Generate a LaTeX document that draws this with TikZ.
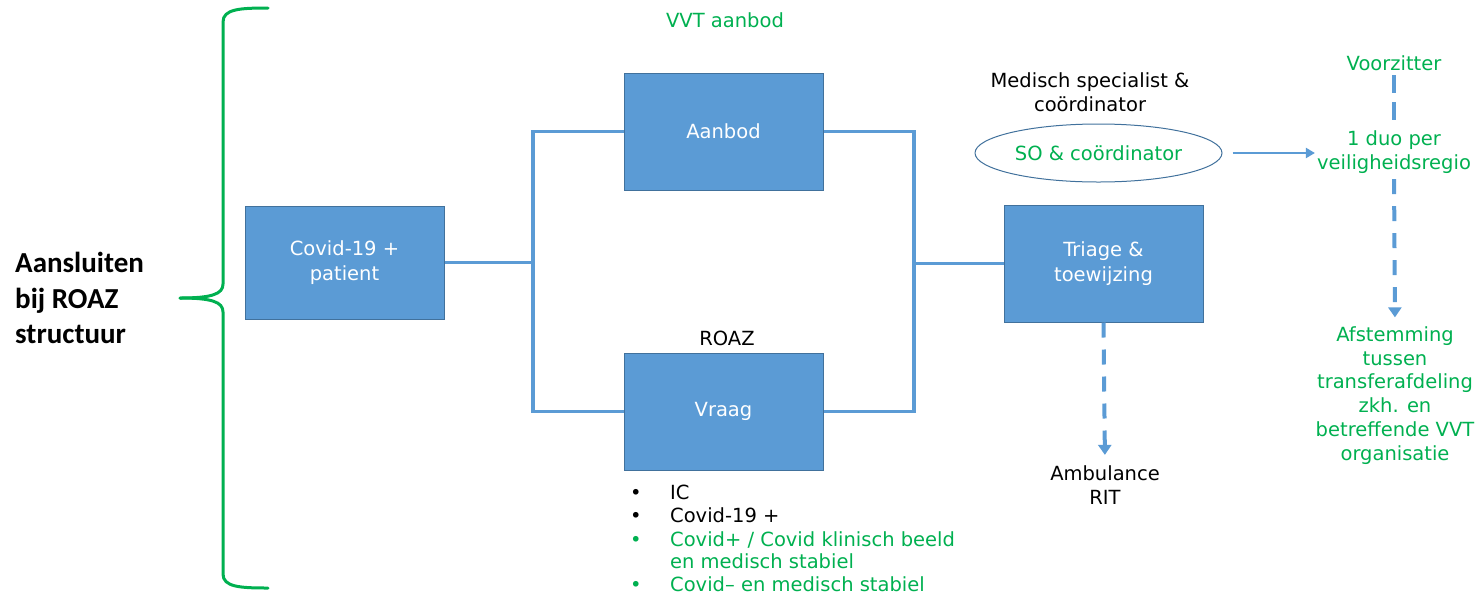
\documentclass[tikz,border=0pt]{standalone}
\usepackage{fontspec}
\setmainfont{DejaVu Sans}
\newfontfamily\lblfont{Carlito}
\usetikzlibrary{arrows.meta,shapes.geometric}
\definecolor{boxblue}{HTML}{5B9BD5}
\definecolor{boxedge}{HTML}{41719C}
\definecolor{vgreen}{HTML}{00B050}
\begin{document}
\begin{tikzpicture}[x=1pt,y=-1pt,
  txt/.style={inner sep=1pt, font=\fontsize{19.5}{24}\selectfont, align=center},
  box/.style={draw=boxedge, line width=1pt, fill=boxblue, text=white, minimum width=199pt, minimum height=117pt, inner sep=0pt, font=\fontsize{19.5}{24.5}\selectfont, align=center},
  conn/.style={draw=boxblue, line width=3.5pt},
  dasharr/.style={draw=boxblue, line width=4pt, dash pattern=on 15pt off 12pt, -{Triangle[width=13pt,length=10pt]}},
  dashln/.style={draw=boxblue, line width=4pt, dash pattern=on 18pt off 9pt},
  solarr/.style={draw=boxblue, line width=2.2pt, -{Triangle[width=10pt,length=9pt]}},
  bracest/.style={draw=vgreen, line width=3pt, line cap=round},
  item/.style={inner sep=0pt, anchor=base west, font=\fontsize{19.5}{24}\selectfont}
]
\useasboundingbox (0,0) rectangle (1480,598);

% brace and label
\draw[bracest] (268,8) .. controls (240,8) and (223,9) .. (223,22) -- (223,284) .. controls (223,294) and (212,298) .. (180,298);
\draw[bracest] (180,298) .. controls (212,298) and (223,302) .. (223,312) -- (223,574) .. controls (223,587) and (240,588) .. (268,588);
\node[anchor=west, align=left, inner sep=0pt, font=\lblfont\bfseries\fontsize{29}{35.5}\selectfont] (roazlbl) at (15,298) {Aansluiten\\bij ROAZ\\structuur};

% boxes
\node[box, minimum height=113pt] (covid) at (344.5,262.5) {Covid-19 +\\patient};
\node[box] (aanbod) at (723.5,131.5) {Aanbod};
\node[box] (vraag) at (723.5,411.5) {Vraag};
\node[box] (triage) at (1103.5,263.5) {Triage \&\\toewijzing};

\node[txt, text=vgreen] (vvt) at (725,20) {VVT aanbod};
\node[txt] (roaz) at (727,338) {ROAZ};

% connectors
\coordinate (jl) at (533,263);
\coordinate (jr) at (914,263);
\draw[conn] (covid.east) -- (covid.east -| jl);
\draw[conn] (aanbod.west) -| (jl) |- (vraag.west);
\draw[conn] (aanbod.east) -| (jr) |- (vraag.east);
\draw[conn] (triage.west -| jr) -- (triage.west);

% specialist
\node[txt] (med) at (1090,92) {Medisch specialist \&\\coördinator};
\node[draw=boxedge, line width=1pt, ellipse, minimum width=247pt, minimum height=58pt, inner sep=0pt, text=vgreen, font=\fontsize{19.5}{24}\selectfont] (so) at (1098.5,153) {SO \& coördinator};

% right column
\node[txt, text=vgreen] (voorz) at (1394,63) {Voorzitter};
\node[txt, text=vgreen] (duo) at (1394,152.5) {1 duo per\\veiligheidsregio};
\node[txt, text=vgreen, font=\fontsize{19.5}{23.8}\selectfont] (afst) at (1395,395.5) {Afstemming\\tussen\\transferafdeling\\zkh. en\\betreffende VVT\\organisatie};
\draw[dashln] (voorz.south |- 0,75) -- (duo.north |- 0,120);
\draw[dasharr, shorten <=4pt, shorten >=8pt] (duo.south) -- (afst.north);
\draw[solarr, shorten <=10pt, shorten >=1pt] (so.east) -- (so.east -| duo.west);

% ambulance
\node[txt] (amb) at (1105,485.5) {Ambulance\\RIT};
\draw[dasharr, shorten >=10pt] (triage.south) -- (amb.north);

% bullet list
\node[item] (b1) at (630,499) {\makebox[40pt][l]{•}IC};
\node[item] (b2) at (630,522) {\makebox[40pt][l]{•}Covid-19 +};
\node[item, text=vgreen] (b3) at (630,546) {\makebox[40pt][l]{•}Covid+ / Covid klinisch beeld};
\node[item, text=vgreen] (b4) at (630,568) {\hspace*{40pt}en medisch stabiel};
\node[item, text=vgreen] (b5) at (630,591) {\makebox[40pt][l]{•}Covid– en medisch stabiel};
\end{tikzpicture}
\end{document}
